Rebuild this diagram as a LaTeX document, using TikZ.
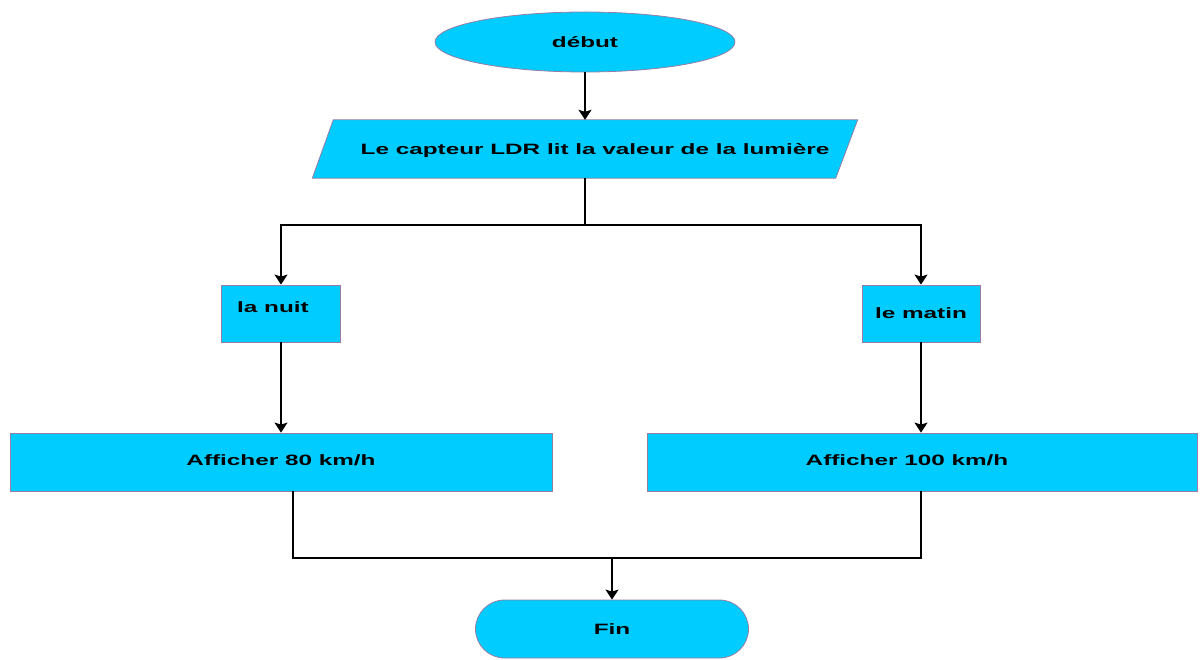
\documentclass[tikz,border=0pt]{standalone}
\usepackage{fontspec}
\setmainfont{Liberation Sans}
\usetikzlibrary{shapes.geometric,arrows.meta}
\definecolor{fillc}{RGB}{0,204,255}
\definecolor{edgec}{RGB}{150,125,165}
\newcommand{\wtxt}[1]{\scalebox{1.62}[1]{#1}}
\begin{document}
\begin{tikzpicture}[x=1pt,y=-1pt,
  txt/.style={font=\bfseries\fontsize{15}{18}\selectfont, inner sep=0pt},
  shapebox/.style={txt, draw=edgec, fill=fillc, line width=0.8pt},
  conn/.style={line width=1.5pt, draw=black},
  arr/.style={conn, -{Stealth[length=10pt,width=13pt,inset=2pt]}}]
\useasboundingbox (0,0) rectangle (1200,660);

\node[shapebox, ellipse, minimum width=300, minimum height=60] (debut) at (585,42) {\wtxt{début}};
% parallelogram
\path node[minimum width=545, minimum height=58, inner sep=0pt] (capt) at (585,149) {};
\draw[draw=edgec, fill=fillc, line width=0.8pt]
  ([xshift=21pt]capt.north west) -- (capt.north east)
  -- ([xshift=-22pt]capt.south east) -- (capt.south west) -- cycle;
\node[txt] (capttxt) at (595,151) {\wtxt{Le capteur LDR lit la valeur de la lumière}};
\node[shapebox, minimum width=119, minimum height=57] (nuit) at (281,313.5) {};
\node[txt] (nuittxt) at (273,307) {\wtxt{la nuit}};
\node[shapebox, minimum width=118, minimum height=57] (matin) at (921,313.5) {\wtxt{le matin}};
\node[shapebox, minimum width=542, minimum height=58] (a80) at (281,462) {\raisebox{3pt}{\wtxt{Afficher 80 km/h}}};
\node[shapebox, minimum width=550, minimum height=58] (a100) at (922,462) {\raisebox{3pt}{\wtxt{Afficher 100 km/h}}\hspace*{30pt}};
\node[shapebox, rounded corners=29, minimum width=273, minimum height=58] (fin) at (612,629) {\wtxt{Fin}};

\coordinate (j1) at (585,225);
\coordinate (m) at (612,558);

\draw[arr] (debut.south) -- (debut.south |- capt.north);
\draw[conn] (capt.south) -- (j1);
\draw[arr] (j1) -| (nuit.north);
\draw[arr] (j1) -| (matin.north);
\draw[arr] (nuit.south) -- (nuit.south |- a80.north);
\draw[arr] (matin.south) -- (matin.south |- a100.north);
\draw[conn] ([xshift=12pt]a80.south) |- (m) -| ([xshift=-1pt]a100.south);
\draw[arr] (m) -- (fin.north);
\end{tikzpicture}
\end{document}
